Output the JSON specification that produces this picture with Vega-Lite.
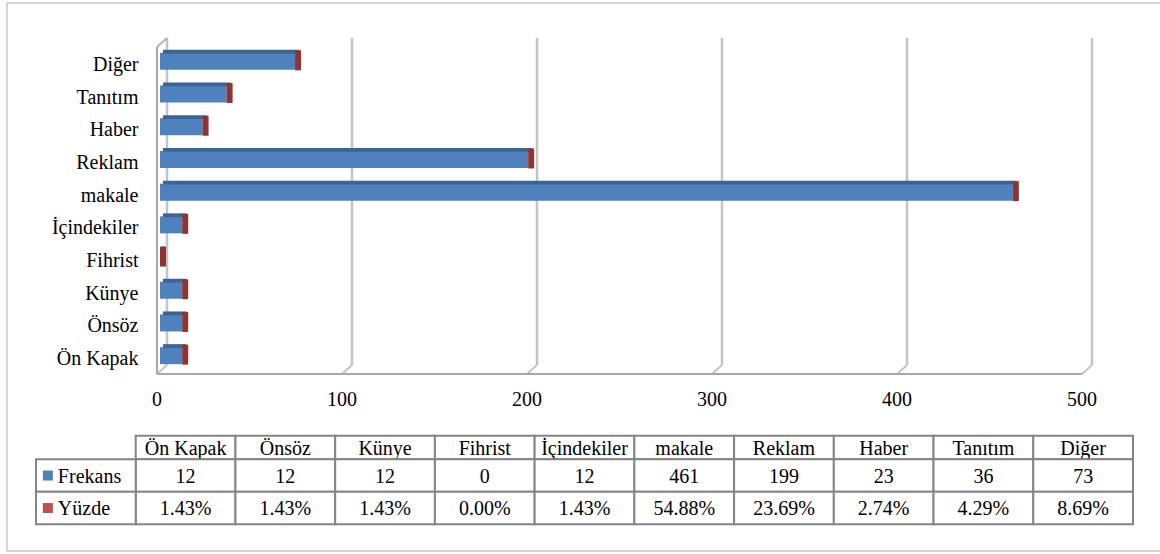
{
  "$schema": "https://vega.github.io/schema/vega-lite/v6.json",
  "width": 1154,
  "height": 548,
  "autosize": {"type": "none"},
  "padding": {"left": 7, "top": 3, "right": 0, "bottom": 3},
  "background": "white",
  "config": {
    "view": {"stroke": "#c9c9c9", "strokeWidth": 1.5},
    "text": {"font": "Liberation Serif, Times New Roman, Times, serif", "fontSize": 20, "color": "black"}
  },
  "datasets": {
    "kategoriler": [
      {"kategori": "Ön Kapak", "Frekans": 12, "Yüzde": 0.0143},
      {"kategori": "Önsöz", "Frekans": 12, "Yüzde": 0.0143},
      {"kategori": "Künye", "Frekans": 12, "Yüzde": 0.0143},
      {"kategori": "Fihrist", "Frekans": 0, "Yüzde": 0},
      {"kategori": "İçindekiler", "Frekans": 12, "Yüzde": 0.0143},
      {"kategori": "makale", "Frekans": 461, "Yüzde": 0.5488},
      {"kategori": "Reklam", "Frekans": 199, "Yüzde": 0.2369},
      {"kategori": "Haber", "Frekans": 23, "Yüzde": 0.0274},
      {"kategori": "Tanıtım", "Frekans": 36, "Yüzde": 0.0429},
      {"kategori": "Diğer", "Frekans": 73, "Yüzde": 0.0869}
    ],
    "seriler": [{"seri": "Frekans"}, {"seri": "Yüzde"}],
    "izgara": [{"v": 0}, {"v": 100}, {"v": 200}, {"v": 300}, {"v": 400}, {"v": 500}],
    "tek": [{"v": 0}]
  },
  "layer": [
    {
      "layer": [
        {
          "layer": [
            {
              "data": {"name": "izgara"},
              "mark": {"type": "rule", "color": "#c4c4c4", "strokeWidth": 2.5},
              "encoding": {
                "x": {"field": "v", "type": "quantitative", "scale": {"domain": [0, 500], "range": [160, 1085], "nice": false, "zero": false}, "axis": null},
                "y": {"datum": 0, "type": "quantitative", "scale": {"domain": [0, 1], "range": [362, 35], "nice": false, "zero": false}, "axis": null},
                "y2": {"datum": 1}
              }
            },
            {
              "data": {"name": "izgara"},
              "mark": {"type": "rule", "color": "#c4c4c4", "strokeWidth": 2, "xOffset": -10, "yOffset": 9},
              "encoding": {
                "x": {"field": "v", "type": "quantitative", "scale": {"domain": [0, 500], "range": [160, 1085], "nice": false, "zero": false}, "axis": null},
                "x2": {"field": "v"},
                "y": {"datum": 0, "type": "quantitative", "scale": {"domain": [0, 1], "range": [362, 35], "nice": false, "zero": false}, "axis": null},
                "y2": {"datum": 0}
              }
            },
            {
              "data": {"name": "tek"},
              "mark": {"type": "rule", "color": "#a8a8a8", "strokeWidth": 2, "xOffset": -10, "x2Offset": -10, "yOffset": 9},
              "encoding": {
                "x": {"datum": 0, "type": "quantitative", "scale": {"domain": [0, 500], "range": [160, 1085], "nice": false, "zero": false}, "axis": null},
                "x2": {"datum": 500},
                "y": {"datum": 0, "type": "quantitative", "scale": {"domain": [0, 1], "range": [362, 35], "nice": false, "zero": false}, "axis": null}
              }
            },
            {
              "data": {"name": "tek"},
              "mark": {"type": "rule", "color": "#a8a8a8", "strokeWidth": 2, "xOffset": -10, "yOffset": 9, "y2Offset": 9},
              "encoding": {
                "x": {"datum": 0, "type": "quantitative", "scale": {"domain": [0, 500], "range": [160, 1085], "nice": false, "zero": false}, "axis": null},
                "y": {"datum": 0, "type": "quantitative", "scale": {"domain": [0, 1], "range": [362, 35], "nice": false, "zero": false}, "axis": null},
                "y2": {"datum": 1}
              }
            },
            {
              "data": {"name": "tek"},
              "mark": {"type": "rule", "color": "#b4b4b4", "strokeWidth": 2, "xOffset": -10, "yOffset": 9},
              "encoding": {
                "x": {"datum": 0, "type": "quantitative", "scale": {"domain": [0, 500], "range": [160, 1085], "nice": false, "zero": false}, "axis": null},
                "x2": {"datum": 0},
                "y": {"datum": 1, "type": "quantitative", "scale": {"domain": [0, 1], "range": [362, 35], "nice": false, "zero": false}, "axis": null},
                "y2": {"datum": 1}
              }
            },
            {
              "data": {"name": "izgara"},
              "mark": {"type": "text", "baseline": "alphabetic", "align": "center", "xOffset": -10, "yOffset": 41, "font": "Liberation Serif, Times New Roman, Times, serif", "fontSize": 20, "color": "black"},
              "encoding": {
                "x": {"field": "v", "type": "quantitative", "scale": {"domain": [0, 500], "range": [160, 1085], "nice": false, "zero": false}, "axis": null},
                "y": {"datum": 0, "type": "quantitative", "scale": {"domain": [0, 1], "range": [362, 35], "nice": false, "zero": false}, "axis": null},
                "text": {"field": "v", "type": "quantitative", "format": "d"}
              }
            }
          ]
        },
        {
          "data": {"name": "kategoriler"},
          "encoding": {
            "y": {
              "field": "kategori", "type": "nominal",
              "scale": {"domain": ["Diğer", "Tanıtım", "Haber", "Reklam", "makale", "İçindekiler", "Fihrist", "Künye", "Önsöz", "Ön Kapak"], "range": [35, 362], "paddingInner": 0, "paddingOuter": 0},
              "axis": {"title": null, "offset": -160, "domain": false, "ticks": false, "grid": false, "labelPadding": 29, "labelOffset": 16.5, "labelBaseline": "alphabetic", "labelFont": "Liberation Serif, Times New Roman, Times, serif", "labelFontSize": 20, "labelColor": "black", "labelLimit": 300}
            }
          },
          "layer": [
            {
              "mark": {"type": "bar", "height": 17, "yOffset": 7, "xOffset": -7, "x2Offset": -7, "color": "#4f81bd"},
              "encoding": {
                "x": {"field": "Frekans", "type": "quantitative", "scale": {"domain": [0, 500], "range": [160, 1085], "nice": false, "zero": false}, "axis": null},
                "x2": {"datum": 0}
              }
            },
            {
              "mark": {"type": "bar", "height": 3.8, "yOffset": -2.6, "xOffset": -3, "x2Offset": -4, "color": "#3c6396"},
              "encoding": {
                "x": {"field": "Frekans", "type": "quantitative", "scale": {"domain": [0, 500], "range": [160, 1085], "nice": false, "zero": false}, "axis": null},
                "x2": {"datum": 0}
              }
            },
            {
              "mark": {"type": "tick", "orient": "vertical", "thickness": 6, "size": 20, "yOffset": 6, "xOffset": -4, "color": "#8e3432", "opacity": 1},
              "encoding": {
                "x": {"field": "Frekans", "type": "quantitative", "scale": {"domain": [0, 500], "range": [160, 1085], "nice": false, "zero": false}, "axis": null}
              }
            }
          ]
        }
      ],
      "resolve": {"scale": {"y": "independent"}}
    },
    {
      "layer": [
        {
          "data": {"name": "kategoriler"},
          "encoding": {
            "x": {"field": "kategori", "type": "nominal", "scale": {"domain": ["Seri", "Ön Kapak", "Önsöz", "Künye", "Fihrist", "İçindekiler", "makale", "Reklam", "Haber", "Tanıtım", "Diğer"], "range": [29, 1126], "paddingInner": 0, "paddingOuter": 0}, "axis": null},
            "y": {"datum": "başlık", "type": "nominal", "scale": {"domain": ["başlık"], "range": [432.7, 456.3], "paddingInner": 0, "paddingOuter": 0}, "axis": null}
          },
          "layer": [
            {"mark": {"type": "rect", "fill": "white", "stroke": "#858585", "strokeWidth": 2}},
            {"mark": {"type": "text", "baseline": "alphabetic", "yOffset": 7, "font": "Liberation Serif, Times New Roman, Times, serif", "fontSize": 20, "color": "black"}, "encoding": {"text": {"field": "kategori"}}}
          ]
        },
        {
          "layer": [
            {
              "data": {"name": "kategoriler"},
              "mark": {"type": "rect", "fill": "white", "stroke": "#858585", "strokeWidth": 2},
              "encoding": {
                "x": {"field": "kategori", "type": "nominal", "scale": {"domain": ["Seri", "Ön Kapak", "Önsöz", "Künye", "Fihrist", "İçindekiler", "makale", "Reklam", "Haber", "Tanıtım", "Diğer"], "range": [29, 1126], "paddingInner": 0, "paddingOuter": 0}, "axis": null},
                "y": {"datum": "Frekans", "type": "nominal", "scale": {"domain": ["Frekans", "Yüzde"], "range": [456.3, 521.3], "paddingInner": 0, "paddingOuter": 0}, "axis": null}
              }
            },
            {
              "data": {"name": "kategoriler"},
              "mark": {"type": "rect", "fill": "white", "stroke": "#858585", "strokeWidth": 2},
              "encoding": {
                "x": {"field": "kategori", "type": "nominal", "scale": {"domain": ["Seri", "Ön Kapak", "Önsöz", "Künye", "Fihrist", "İçindekiler", "makale", "Reklam", "Haber", "Tanıtım", "Diğer"], "range": [29, 1126], "paddingInner": 0, "paddingOuter": 0}, "axis": null},
                "y": {"datum": "Yüzde", "type": "nominal", "scale": {"domain": ["Frekans", "Yüzde"], "range": [456.3, 521.3], "paddingInner": 0, "paddingOuter": 0}, "axis": null}
              }
            },
            {
              "data": {"name": "seriler"},
              "mark": {"type": "rect", "fill": "white", "stroke": "#858585", "strokeWidth": 2},
              "encoding": {
                "x": {"datum": "Seri", "type": "nominal", "scale": {"domain": ["Seri", "Ön Kapak", "Önsöz", "Künye", "Fihrist", "İçindekiler", "makale", "Reklam", "Haber", "Tanıtım", "Diğer"], "range": [29, 1126], "paddingInner": 0, "paddingOuter": 0}, "axis": null},
                "y": {"field": "seri", "type": "nominal", "scale": {"domain": ["Frekans", "Yüzde"], "range": [456.3, 521.3], "paddingInner": 0, "paddingOuter": 0}, "axis": null}
              }
            },
            {
              "data": {"name": "kategoriler"},
              "mark": {"type": "text", "baseline": "alphabetic", "yOffset": 7, "font": "Liberation Serif, Times New Roman, Times, serif", "fontSize": 20, "color": "black"},
              "encoding": {
                "x": {"field": "kategori", "type": "nominal", "scale": {"domain": ["Seri", "Ön Kapak", "Önsöz", "Künye", "Fihrist", "İçindekiler", "makale", "Reklam", "Haber", "Tanıtım", "Diğer"], "range": [29, 1126], "paddingInner": 0, "paddingOuter": 0}, "axis": null},
                "y": {"datum": "Frekans", "type": "nominal", "scale": {"domain": ["Frekans", "Yüzde"], "range": [456.3, 521.3], "paddingInner": 0, "paddingOuter": 0}, "axis": null},
                "text": {"field": "Frekans", "type": "quantitative", "format": "d"}
              }
            },
            {
              "data": {"name": "kategoriler"},
              "mark": {"type": "text", "baseline": "alphabetic", "yOffset": 7, "font": "Liberation Serif, Times New Roman, Times, serif", "fontSize": 20, "color": "black"},
              "encoding": {
                "x": {"field": "kategori", "type": "nominal", "scale": {"domain": ["Seri", "Ön Kapak", "Önsöz", "Künye", "Fihrist", "İçindekiler", "makale", "Reklam", "Haber", "Tanıtım", "Diğer"], "range": [29, 1126], "paddingInner": 0, "paddingOuter": 0}, "axis": null},
                "y": {"datum": "Yüzde", "type": "nominal", "scale": {"domain": ["Frekans", "Yüzde"], "range": [456.3, 521.3], "paddingInner": 0, "paddingOuter": 0}, "axis": null},
                "text": {"field": "Yüzde", "type": "quantitative", "format": ".2%"}
              }
            },
            {
              "data": {"name": "seriler"},
              "mark": {"type": "text", "baseline": "alphabetic", "align": "left", "yOffset": 7, "xOffset": -28, "font": "Liberation Serif, Times New Roman, Times, serif", "fontSize": 20, "color": "black"},
              "encoding": {
                "x": {"datum": "Seri", "type": "nominal", "scale": {"domain": ["Seri", "Ön Kapak", "Önsöz", "Künye", "Fihrist", "İçindekiler", "makale", "Reklam", "Haber", "Tanıtım", "Diğer"], "range": [29, 1126], "paddingInner": 0, "paddingOuter": 0}, "axis": null},
                "y": {"field": "seri", "type": "nominal", "scale": {"domain": ["Frekans", "Yüzde"], "range": [456.3, 521.3], "paddingInner": 0, "paddingOuter": 0}, "axis": null},
                "text": {"field": "seri"}
              }
            },
            {
              "data": {"name": "seriler"},
              "mark": {"type": "point", "shape": "square", "filled": true, "size": 100, "opacity": 1, "xOffset": -38},
              "encoding": {
                "x": {"datum": "Seri", "type": "nominal", "scale": {"domain": ["Seri", "Ön Kapak", "Önsöz", "Künye", "Fihrist", "İçindekiler", "makale", "Reklam", "Haber", "Tanıtım", "Diğer"], "range": [29, 1126], "paddingInner": 0, "paddingOuter": 0}, "axis": null},
                "y": {"field": "seri", "type": "nominal", "scale": {"domain": ["Frekans", "Yüzde"], "range": [456.3, 521.3], "paddingInner": 0, "paddingOuter": 0}, "axis": null},
                "color": {"field": "seri", "type": "nominal", "scale": {"domain": ["Frekans", "Yüzde"], "range": ["#4f81bd", "#c0504d"]}, "legend": null}
              }
            }
          ]
        }
      ],
      "resolve": {"scale": {"y": "independent"}}
    }
  ],
  "resolve": {"scale": {"x": "independent", "y": "independent", "color": "independent"}}
}
